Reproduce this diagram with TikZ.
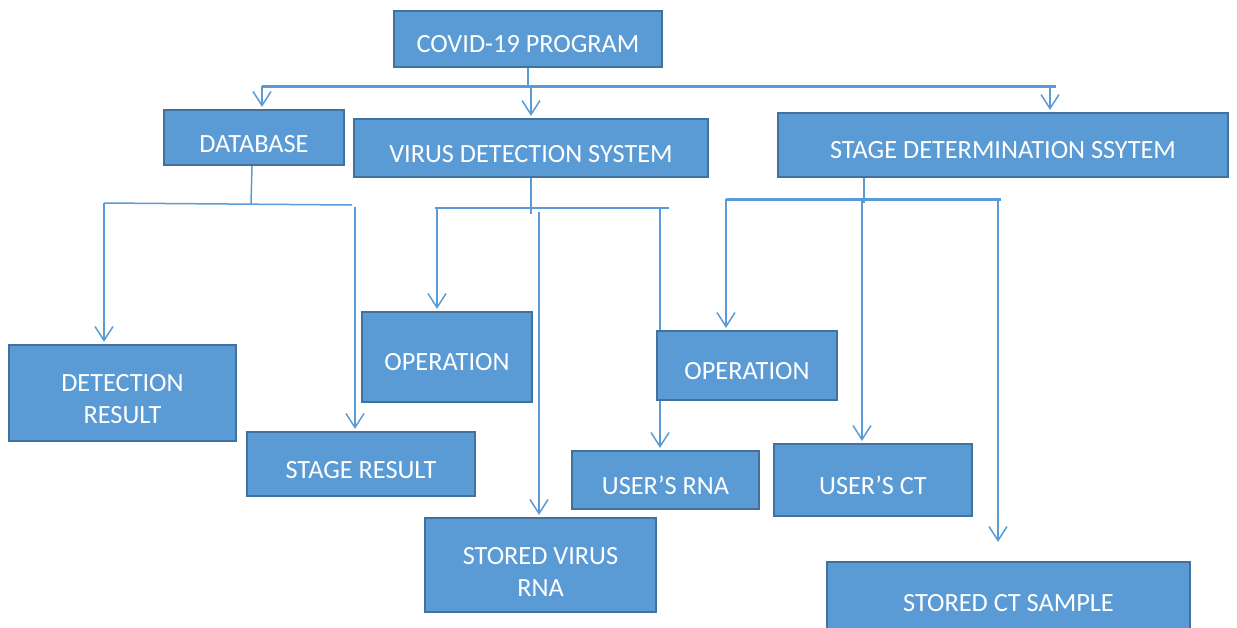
\documentclass[tikz,border=0pt]{standalone}
\usepackage{fontspec}
\setmainfont{Carlito}
\usetikzlibrary{arrows.meta,backgrounds}
\definecolor{boxfill}{HTML}{5B9BD5}
\definecolor{boxline}{HTML}{41719C}
\definecolor{conn}{HTML}{5B9BD5}
\newcommand{\Lo}[2]{\raisebox{-#1pt}[\height][\depth]{#2}}
\newcommand{\Lt}[2]{\raisebox{-#1pt}[\height][\depth]{\begin{tabular}{@{}c@{}}#2\end{tabular}}}
\tikzset{
  box/.style={draw=boxline, fill=boxfill, line width=2.2pt, inner sep=0pt,
    text=white, font=\fontsize{26.3}{32.5}\selectfont, align=center},
  wire/.style={draw=conn, line width=1.5pt},
  buswire/.style={draw=conn, line width=3pt},
  arr/.style={draw=conn, line width=1.5pt, -{Straight Barb[length=14pt,width=18pt]}, shorten >=2pt}
}
\begin{document}
\begin{tikzpicture}[x=1pt,y=-1pt]
\useasboundingbox (0,0) rectangle (1237,627);
\clip (0,0) rectangle (1237,627);
% boxes
\node[box, minimum width=268, minimum height=56] (covid) at (528,39) {\Lo{5}{COVID-19 PROGRAM}};
\node[box, minimum width=180, minimum height=55] (db) at (254,137.5) {\Lo{7}{DATABASE}};
\node[box, minimum width=354, minimum height=58] (vds) at (531,148) {\Lo{6}{VIRUS DETECTION SYSTEM}};
\node[box, minimum width=450, minimum height=64] (sds) at (1003,145) {\Lo{5}{STAGE DETERMINATION SSYTEM}};
\node[box, minimum width=227, minimum height=96] (det) at (122.5,393) {\Lt{8}{DETECTION\\RESULT}};
\node[box, minimum width=228, minimum height=64] (stage) at (361,464) {\Lo{6}{STAGE RESULT}};
\node[box, minimum width=170, minimum height=90] (opl) at (447,357) {\Lo{5}{OPERATION}};
\node[box, minimum width=180, minimum height=69] (opr) at (747,365.5) {\Lo{6}{OPERATION}};
\node[box, minimum width=187, minimum height=58] (rna) at (665.5,480) {\Lo{5}{USER’S RNA}};
\node[box, minimum width=198, minimum height=72] (ct) at (873,480) {\Lo{5}{USER’S CT}};
\node[box, minimum width=231, minimum height=94] (svr) at (540.5,565) {\Lt{9}{STORED VIRUS\\RNA}};
\node[box, minimum width=363, minimum height=70] (sct) at (1008.5,597) {\Lo{6}{STORED CT SAMPLE}};
% connectors
\begin{pgfonlayer}{background}
\coordinate (b1L) at (262,86);
\coordinate (b1R) at (1056,86);
\coordinate (b1M) at (531,87);
\coordinate (b1S) at (1050,87);
\draw[wire] (covid.south) -- (covid.south |- b1L);
\draw[buswire] (b1L) -- (b1R);
\draw[arr] (b1L) -- (b1L |- db.north);
\draw[arr] (b1M) -- (b1M |- vds.north);
\draw[arr] (b1S) -- (b1S |- sds.north);
% database
\coordinate (dbJ) at (251,204);
\coordinate (dbL) at (104,203);
\coordinate (dbR) at (352,205);
\coordinate (dbR2) at (355,207);
\draw[wire] (db.south -| 252,0) -- (dbJ);
\draw[wire] (dbL) -- (dbR);
\draw[arr] (dbL) -- (dbL |- det.north);
\draw[arr] (dbR2) -- (dbR2 |- stage.north);
% virus detection
\coordinate (vJ) at (531,214);
\coordinate (vL) at (435,208);
\coordinate (vR) at (669,208);
\coordinate (vA) at (437,209);
\coordinate (vB) at (539,212);
\coordinate (vC) at (660,209);
\draw[wire] (vds.south -| vJ) -- (vJ);
\draw[wire, line width=2.5pt] (vL) -- (vR);
\draw[arr] (vA) -- (vA |- opl.north);
\draw[arr] (vB) -- (vB |- svr.north);
\draw[arr] (vC) -- (vC |- rna.north);
% stage determination
\coordinate (sJ) at (864,203);
\coordinate (sL) at (726,199);
\coordinate (sR) at (1001,199);
\coordinate (sM) at (862,200);
\coordinate (sR2) at (998,200);
\draw[wire] (sJ |- sds.south) -- (sJ);
\draw[buswire] (sL) -- (sR);
\draw[arr] (sL) -- (sL |- opr.north);
\draw[arr] (sM) -- (sM |- ct.north);
\draw[arr, shorten >=19pt] (sR2) -- (sR2 |- sct.north);
\end{pgfonlayer}
\end{tikzpicture}
\end{document}
